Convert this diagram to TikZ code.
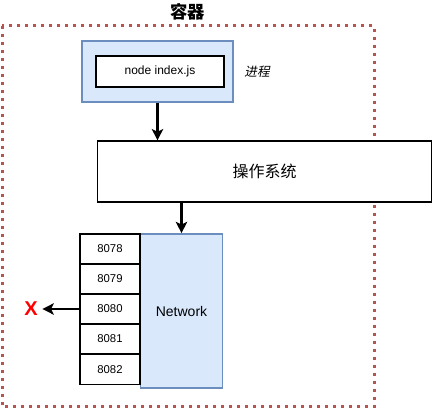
\documentclass[tikz,border=0pt]{standalone}
\usepackage{fontspec}
\setmainfont{Liberation Sans}
\newfontfamily\cjk{Noto Sans CJK SC}
\newfontfamily\cjkit[FakeSlant=0.2]{Noto Sans CJK SC}
\usetikzlibrary{arrows.meta}
\definecolor{dotred}{HTML}{B85450}
\definecolor{bluefill}{HTML}{DAE8FC}
\definecolor{blueline}{HTML}{6C8EBF}
\begin{document}
\begin{tikzpicture}[x=0.75pt,y=-0.75pt,
  box/.style={draw=black,line width=0.9pt,fill=white},
  bluebox/.style={draw=blueline,line width=1.2pt,fill=bluefill},
  portbox/.style={draw=black,line width=0.9pt,fill=white,minimum width=45pt,minimum height=22.5pt,inner sep=0pt,font=\fontsize{8.5}{10}\selectfont},
  arr/.style={line width=1.6pt,-{Stealth[length=8.5pt,width=8.5pt,inset=2pt]}}]
\useasboundingbox (0,0) rectangle (433,410);
% container
\draw[dotred,line width=2.25pt,dash pattern=on 2.25pt off 3.75pt] (2,26) rectangle (374,407);
\node[font=\cjk\bfseries\fontsize{13}{15}\selectfont] (title) at (188,12) {容器};
% process
\node[bluebox,minimum width=113pt,minimum height=45.75pt,inner sep=0pt] (proc) at (157.5,71.5) {};
\node[box,line width=1.4pt,minimum width=96pt,minimum height=23.25pt,inner sep=0pt,font=\fontsize{9}{11}\selectfont] (cmd) at (160,71.5) {node index.js};
\node[font=\cjkit\fontsize{9.5}{11}\selectfont] (plabel) at (257,72) {进程};
% OS
\node[box,minimum width=251pt,minimum height=45.75pt,inner sep=0pt,font=\cjk\fontsize{12}{14}\selectfont] (os) at (264.5,171.5) {操作系统};
% Network
\node[bluebox,minimum width=61.5pt,minimum height=115.5pt,inner sep=0pt,font=\fontsize{10.5}{12}\selectfont] (net) at (181.5,311) {Network};
% ports
\node[portbox] (p1) at (110,249) {8078};
\node[portbox] (p2) at (110,279) {8079};
\node[portbox] (p3) at (110,309) {8080};
\node[portbox] (p4) at (110,339) {8081};
\node[portbox] (p5) at (110,369.5) {8082};
% X
\node[text=red,font=\bfseries\fontsize{15}{17}\selectfont] (x) at (31,309) {X};
% arrows
\draw[arr] (proc.south) -- (proc.south |- os.north);
\draw[arr] (os.south -| net.north) -- (net.north);
\draw[arr] (p3.west) -- (x.east);
\end{tikzpicture}
\end{document}
